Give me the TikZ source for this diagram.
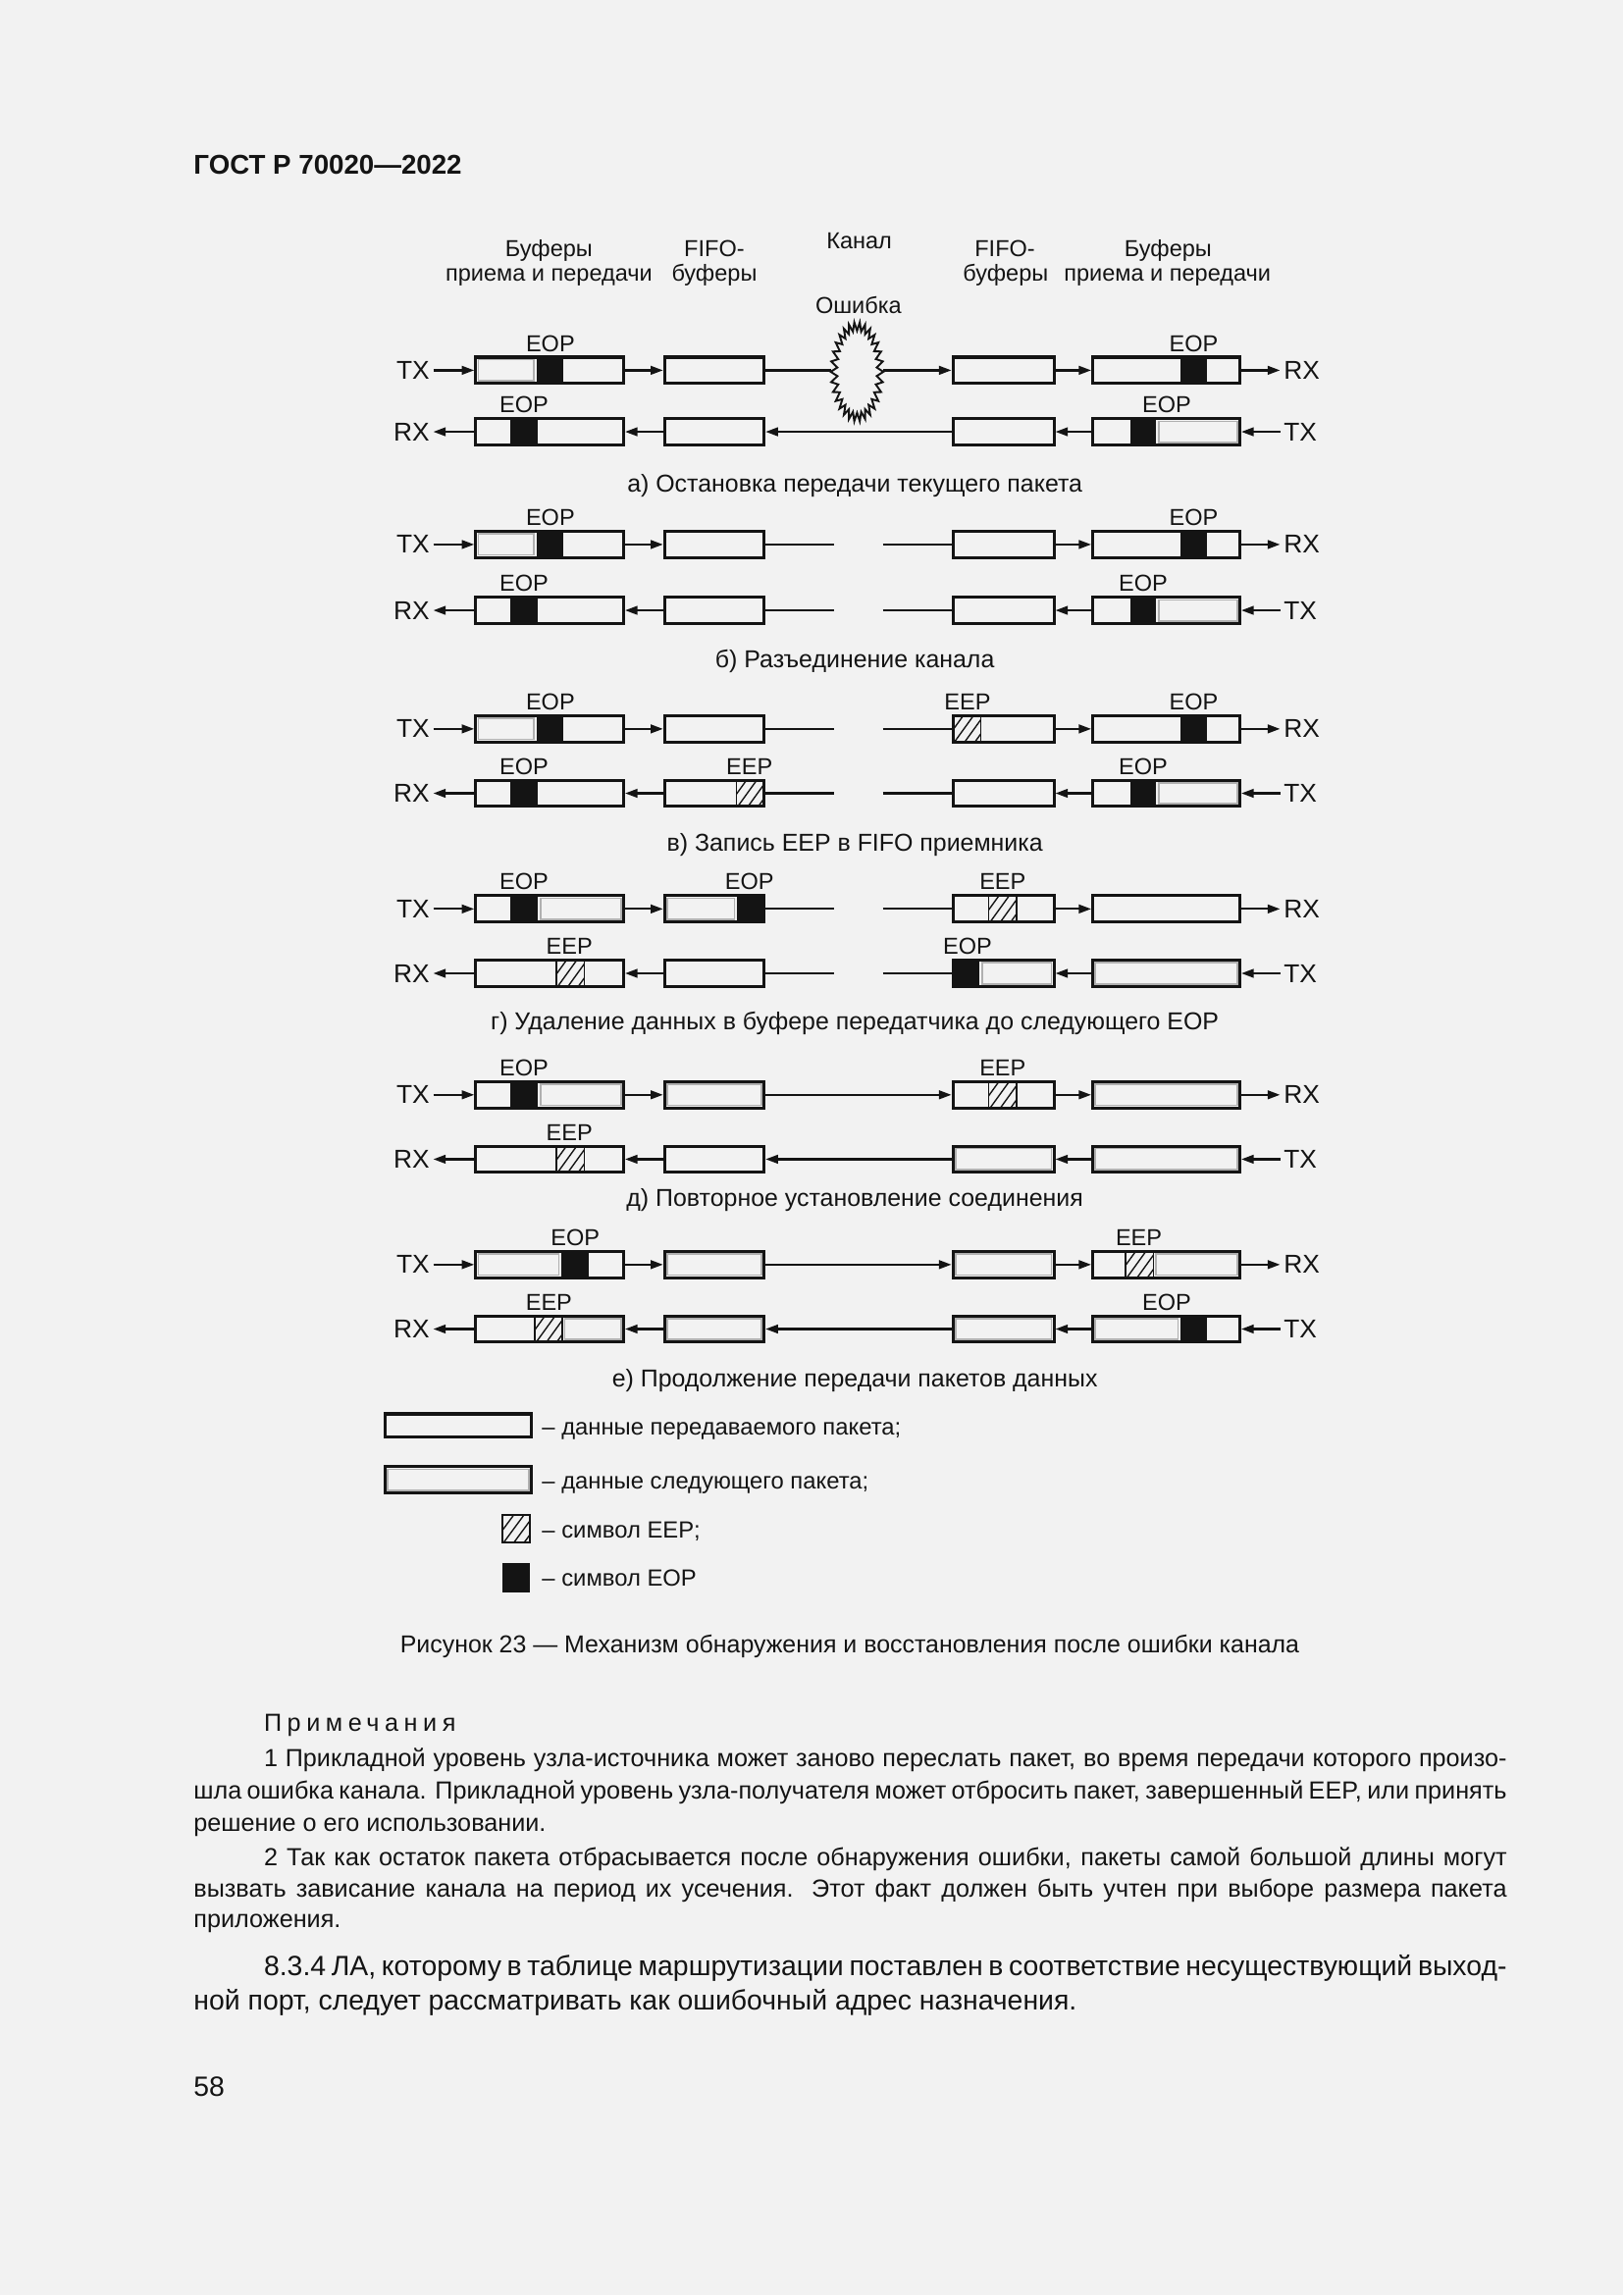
\documentclass[tikz,border=0pt]{standalone}
\usepackage{fontspec}
\setmainfont{Liberation Sans}
\newfontfamily\spacedfont[LetterSpace=22]{Liberation Sans}
\usetikzlibrary{arrows.meta,fit}
\definecolor{paper}{HTML}{F2F2F2}
\definecolor{ink}{HTML}{141414}
\definecolor{nextgray}{HTML}{B0B0B0}
\tikzset{
  bx/.style={draw=ink, line width=1.1pt, inner sep=0pt},
  ln/.style={draw=ink, line width=0.8pt},
  arr/.style={ln, -{Triangle[length=1.6mm,width=1.1mm]}},
  nx/.style={draw=nextgray, line width=0.55pt},
  hl/.style={draw=ink, line width=0.5pt},
  flab/.style={font=\fontsize{8.5}{10}\selectfont, text=ink, inner sep=0pt},
  side/.style={font=\fontsize{9.5}{11}\selectfont, text=ink, inner sep=1.2pt},
  capt/.style={font=\fontsize{9}{11}\selectfont, text=ink, inner sep=0pt},
  legt/.style={font=\fontsize{8.6}{10}\selectfont, text=ink, inner sep=0pt},
  note/.style={font=\fontsize{9.1}{11}\selectfont, text=ink, inner sep=0pt},
  body/.style={font=\fontsize{10.25}{12}\selectfont, text=ink, inner sep=0pt},
}
\newcommand{\eopblk}[3]{\fill[ink] (#1,#3-9) rectangle (#2,#3+9);}
\newcommand{\nextseg}[3]{\draw[nx] ({#1+1.8},{#3-7.2}) rectangle ({#2-1.8},{#3+7.2});}
\newcommand{\eepblk}[3]{%
  \begin{scope}\clip (#1,#3-9) rectangle (#2,#3+9);
  \foreach \k in {0,...,4}{\draw[hl] ({#1-13+\k*7},{#3+9}) -- ++(13,-18);}
  \end{scope}
  \draw[hl] (#1,#3-9) -- (#1,#3+9) (#2,#3-9) -- (#2,#3+9);}
\newcommand{\rowpair}[4]{%
  \node[bx, fit={(325,#2-9)(426,#2+9)}] (#11) {};
  \node[bx, fit={(454,#2-9)(522,#2+9)}] (#12) {};
  \node[bx, fit={(651,#2-9)(720,#2+9)}] (#13) {};
  \node[bx, fit={(746.5,#2-9)(847,#2+9)}] (#14) {};
  \node[side, anchor=east] (#1L) at (296,#2) {#3};
  \node[side, anchor=west] (#1R) at (874.5,#2) {#4};
}
\newcommand{\symlbl}[4]{\node[flab, anchor=base] (#1) at (#2,#3) {#4};}
\newcommand{\topconn}[1]{%
  \draw[arr] (#1L) -- (#11);
  \draw[arr] (#11) -- (#12);
  \draw[arr] (#13) -- (#14);
  \draw[arr] (#14) -- (#1R);}
\newcommand{\botconn}[1]{%
  \draw[arr] (#11) -- (#1L);
  \draw[arr] (#12) -- (#11);
  \draw[arr] (#14) -- (#13);
  \draw[arr] (#1R) -- (#14);}
\newcommand{\gapconn}[2]{%
  \coordinate (#1G1) at (570,#2);
  \coordinate (#1G2) at (603,#2);
  \draw[ln] (#12) -- (#1G1);
  \draw[ln] (#1G2) -- (#13);}

\begin{document}
\begin{tikzpicture}[x=0.18936mm, y=-0.18936mm]
\fill[paper] (0,0) rectangle (1109,1568);
\useasboundingbox (0,0) rectangle (1109,1568);

% header
\node[font=\bfseries\fontsize{10}{12}\selectfont, text=ink, inner sep=0pt, anchor=base west] (hdr) at (132,119) {ГОСТ Р 70020—2022};

% column headers
\node[flab, anchor=base] (h1a) at (375,175.4) {Буферы};
\node[flab, anchor=base] (h1b) at (375,192.2) {приема и передачи};
\node[flab, anchor=base] (h2a) at (488,175.4) {FIFO-};
\node[flab, anchor=base] (h2b) at (488,192.2) {буферы};
\node[flab, anchor=base] (h3) at (587,170) {Канал};
\node[flab, anchor=base] (h4a) at (686.5,175.4) {FIFO-};
\node[flab, anchor=base] (h4b) at (687,192.2) {буферы};
\node[flab, anchor=base] (h5a) at (798,175.4) {Буферы};
\node[flab, anchor=base] (h5b) at (797.5,192.2) {приема и передачи};
\node[flab, anchor=base] (h6) at (586.5,214) {Ошибка};

% ===== a =====
\nextseg{325}{366.5}{253}\eopblk{366.5}{385}{253}\eopblk{806.6}{824.5}{253}
\eopblk{348.3}{367.4}{295}\eopblk{772}{790}{295}\nextseg{790}{847}{295}
\rowpair{at}{253}{TX}{RX}
\rowpair{au}{295}{RX}{TX}
\symlbl{atE1}{376}{240}{EOP}\symlbl{atE2}{815.5}{240}{EOP}
\symlbl{auE1}{358}{282}{EOP}\symlbl{auE2}{797}{282}{EOP}
\topconn{at}
\coordinate (burstW) at (567.5,253);
\coordinate (burstE) at (603.5,253);
\draw[ln] (at2) -- (burstW);
\draw[arr] (burstE) -- (at3);
\botconn{au}
\draw[arr] (au3) -- (au2);
\filldraw[fill=paper, draw=ink, line width=0.7pt] plot[samples=61, domain=0:360, variable=\t]
  ({585.5+cos(\t)*(15.75+2.25*cos(30*\t))}, {254+sin(\t)*(31+3*cos(30*\t))}) -- cycle;
\node[capt, anchor=base] (capa) at (584,336.5) {а) Остановка передачи текущего пакета};

% ===== б =====
\nextseg{325}{366.5}{372}\eopblk{366.5}{385}{372}\eopblk{806.6}{824.5}{372}
\eopblk{348.3}{367.4}{417}\eopblk{772}{790}{417}\nextseg{790}{847}{417}
\rowpair{bt}{372}{TX}{RX}
\rowpair{bu}{417}{RX}{TX}
\symlbl{btE1}{376}{359}{EOP}\symlbl{btE2}{815.5}{359}{EOP}
\symlbl{buE1}{358}{404}{EOP}\symlbl{buE2}{781}{404}{EOP}
\topconn{bt}\gapconn{bt}{372}
\botconn{bu}\gapconn{bu}{417}
\node[capt, anchor=base] (capb) at (584,456.5) {б) Разъединение канала};

% ===== в =====
\nextseg{325}{366.5}{498}\eopblk{366.5}{385}{498}\eepblk{651}{670}{498}\eopblk{806.6}{824.5}{498}
\eopblk{348.3}{367.4}{542}\eepblk{503}{522}{542}\eopblk{772}{790}{542}\nextseg{790}{847}{542}
\rowpair{ct}{498}{TX}{RX}
\rowpair{cu}{542}{RX}{TX}
\symlbl{ctE1}{376}{485}{EOP}\symlbl{ctE2}{661}{485}{EEP}\symlbl{ctE3}{815.5}{485}{EOP}
\symlbl{cuE1}{358}{529}{EOP}\symlbl{cuE2}{512}{529}{EEP}\symlbl{cuE3}{781}{529}{EOP}
\topconn{ct}\gapconn{ct}{498}
\botconn{cu}\gapconn{cu}{542}
\node[capt, anchor=base] (capc) at (584,581.5) {в) Запись EEP в FIFO приемника};

% ===== г =====
\eopblk{348.3}{367.4}{621}\nextseg{367.4}{426}{621}\nextseg{454}{503.5}{621}\eopblk{503.5}{522}{621}\eepblk{675.4}{694.5}{621}
\eepblk{380}{399}{665}\eopblk{651}{669.3}{665}\nextseg{669.3}{720}{665}\nextseg{746.5}{847}{665}
\rowpair{dt}{621}{TX}{RX}
\rowpair{du}{665}{RX}{TX}
\symlbl{dtE1}{358}{608}{EOP}\symlbl{dtE2}{512}{608}{EOP}\symlbl{dtE3}{685}{608}{EEP}
\symlbl{duE1}{389}{652}{EEP}\symlbl{duE2}{661}{652}{EOP}
\topconn{dt}\gapconn{dt}{621}
\botconn{du}\gapconn{du}{665}
\node[capt, anchor=base] (capd) at (584,703.5) {г) Удаление данных в буфере передатчика до следующего EOP};

% ===== д =====
\eopblk{348.3}{367.4}{748}\nextseg{367.4}{426}{748}\nextseg{454}{522}{748}\eepblk{675.4}{694.5}{748}\nextseg{746.5}{847}{748}
\eepblk{380}{399}{792}\nextseg{651}{720}{792}\nextseg{746.5}{847}{792}
\rowpair{et}{748}{TX}{RX}
\rowpair{eu}{792}{RX}{TX}
\symlbl{etE1}{358}{735}{EOP}\symlbl{etE2}{685}{735}{EEP}
\symlbl{euE1}{389}{779}{EEP}
\topconn{et}\draw[arr] (et2) -- (et3);
\botconn{eu}\draw[arr] (eu3) -- (eu2);
\node[capt, anchor=base] (cape) at (584,824.5) {д) Повторное установление соединения};

% ===== е =====
\nextseg{325}{383.7}{864}\eopblk{383.7}{402}{864}\nextseg{454}{522}{864}\nextseg{651}{720}{864}\eepblk{768.8}{787.9}{864}\nextseg{787.9}{847}{864}
\eepblk{365.3}{384}{908}\nextseg{384}{426}{908}\nextseg{454}{522}{908}\nextseg{651}{720}{908}\nextseg{746.5}{806.6}{908}\eopblk{806.6}{824.5}{908}
\rowpair{ft}{864}{TX}{RX}
\rowpair{fu}{908}{RX}{TX}
\symlbl{ftE1}{393}{851}{EOP}\symlbl{ftE2}{778}{851}{EEP}
\symlbl{fuE1}{375}{895}{EEP}\symlbl{fuE2}{797}{895}{EOP}
\topconn{ft}\draw[arr] (ft2) -- (ft3);
\botconn{fu}\draw[arr] (fu3) -- (fu2);
\node[capt, anchor=base] (capf) at (584,947.5) {е) Продолжение передачи пакетов данных};

% ===== legend =====
\node[bx, fit={(263,966)(363,982)}] (lg1) {};
\nextseg{263}{363}{1011}
\node[bx, fit={(263,1002)(363,1020)}] (lg2) {};
\begin{scope}\clip (343,1035) rectangle (362,1054);
  \foreach \k in {0,...,4}{\draw[hl] ({343-13+\k*7},1054) -- ++(14,-19);}
\end{scope}
\node[draw=ink, line width=0.8pt, inner sep=0pt, fit={(343,1035)(362,1054)}] (lg3) {};
\node[fill=ink, inner sep=0pt, fit={(343,1068)(362,1088)}] (lg4) {};
\node[legt, anchor=base west] (lt1) at (370,980.5) {– данные передаваемого пакета;};
\node[legt, anchor=base west] (lt2) at (370,1017.5) {– данные следующего пакета;};
\node[legt, anchor=base west] (lt3) at (370,1050.5) {– символ EEP;};
\node[legt, anchor=base west] (lt4) at (370,1083.5) {– символ EOP};

% caption
\node[capt, anchor=base] (figcap) at (580.5,1129.5) {Рисунок 23 — Механизм обнаружения и восстановления после ошибки канала};

% notes
\node[note, anchor=base west] (nh) at (180,1183) {\spacedfont Примечания};
\node[note, anchor=base west] (n1a) at (180,1207) {\makebox[160.77mm][s]{1 Прикладной уровень узла-источника может заново переслать пакет, во время передачи которого произо-}};
\node[note, anchor=base west] (n1b) at (132,1229) {\makebox[169.86mm][s]{шла ошибка канала. Прикладной уровень узла-получателя может отбросить пакет, завершенный EEP, или принять}};
\node[note, anchor=base west] (n1c) at (132,1251) {решение о его использовании.};
\node[note, anchor=base west] (n2a) at (180,1275) {\makebox[160.77mm][s]{2 Так как остаток пакета отбрасывается после обнаружения ошибки, пакеты самой большой длины могут}};
\node[note, anchor=base west] (n2b) at (132,1296) {\makebox[169.86mm][s]{вызвать зависание канала на период их усечения. Этот факт должен быть учтен при выборе размера пакета}};
\node[note, anchor=base west] (n2c) at (132,1317) {приложения.};
\node[body, anchor=base west] (p1a) at (180,1349.5) {\makebox[160.77mm][s]{8.3.4 ЛА, которому в таблице маршрутизации поставлен в соответствие несуществующий выход-}};
\node[body, anchor=base west] (p1b) at (132,1373.5) {ной порт, следует рассматривать как ошибочный адрес назначения.};
\node[body, anchor=base west] (pg) at (132,1432) {58};
\end{tikzpicture}
\end{document}
